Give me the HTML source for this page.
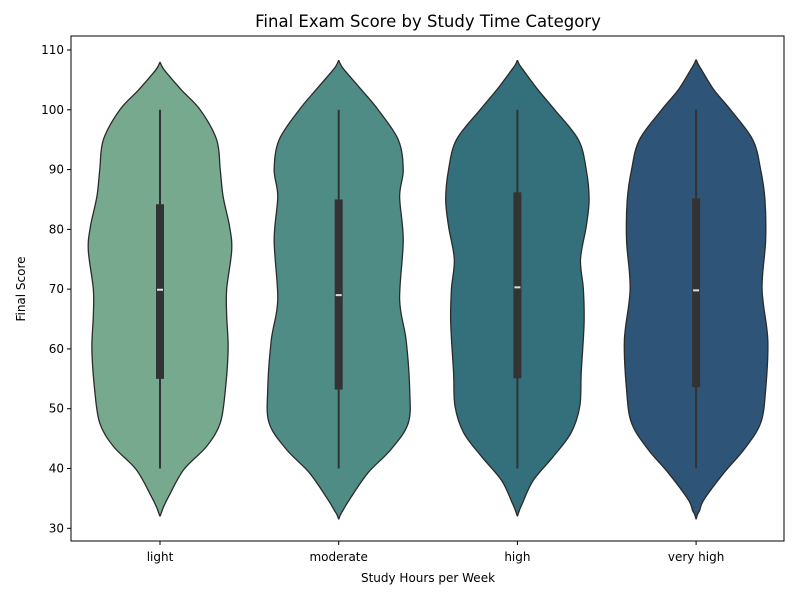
<!DOCTYPE html>
<html><head><meta charset="utf-8"><style>
body{margin:0;background:#fff;font-family:"Liberation Sans","DejaVu Sans",sans-serif}
</style></head><body>
<svg id="chart" width="800" height="600" xmlns="http://www.w3.org/2000/svg" font-family="DejaVu Sans, Liberation Sans, sans-serif">
<rect width="800" height="600" fill="#fff"/>
<text x="428" y="27" font-size="16.5" text-anchor="middle" fill="#000">Final Exam Score by Study Time Category</text>
<g id="plot"></g>
<rect x="71" y="36" width="713" height="505" fill="none" stroke="#000" stroke-width="1"/>
<g id="axes" font-size="12" fill="#000"></g>
<text x="428" y="582" font-size="12" text-anchor="middle">Study Hours per Week</text>
<text transform="translate(25,289) rotate(-90)" font-size="12" text-anchor="middle">Final Score</text>
</svg>
<script>
const categories=["light","moderate","high","very high"];
const colors=["#77a98f","#4f8c86","#346f7c","#2e5478"];
const yTicks=[30,40,50,60,70,80,90,100,110];
// density profiles: score points and relative widths
const lightScores=[108,107.2,106.2,103.3,100,95,90,85.5,80.5,76.5,70,65.5,60,53,47.6,43.7,39.8,35.3,33.6,32.8,32];
const lightDens=[0,0.03,0.09,0.30,0.56,0.79,0.84,0.88,0.97,1.0,0.93,0.93,0.95,0.91,0.84,0.65,0.33,0.12,0.05,0.025,0];
const moderateScores=[108.3,107.5,106.5,103.3,100,95,90,85.5,78.2,68.2,61.5,53.2,47.6,43.2,39.3,34.8,33.0,32.3,31.5];
const moderateDens=[0,0.03,0.09,0.32,0.55,0.83,0.90,0.85,0.90,0.85,0.94,0.99,0.97,0.73,0.41,0.15,0.06,0.025,0];
const highScores=[108.3,107.5,106.5,103.3,100,95,90,85,80.5,75,70,64.3,56,50.4,46,42,38,34.2,32.9,32];
const highDens=[0,0.03,0.09,0.29,0.52,0.85,0.96,1.0,0.96,0.88,0.92,0.93,0.89,0.87,0.75,0.50,0.22,0.07,0.025,0];
const veryHighScores=[108.4,107.6,106.6,103.3,100,95,90,85,78.2,70,61.5,53.2,47.6,43.2,39.3,34.8,33.0,32.3,31.5];
const veryHighDens=[0,0.03,0.08,0.25,0.48,0.79,0.90,0.96,0.97,0.92,1.0,0.97,0.90,0.67,0.39,0.11,0.05,0.02,0];
const q1=[55.0,53.2,55.1,53.6];
const q3=[84.2,85.0,86.2,85.2];
const medians=[69.9,69.0,70.3,69.8];
const whiskerLow=[40,40,40,40];
const whiskerHigh=[100,100,100,100];

const profiles=[[lightScores,lightDens],[moderateScores,moderateDens],[highScores,highDens],[veryHighScores,veryHighDens]];
const L=71,R=784,T=36,B=541;
function y(v){return 528.3-(v-30)*(478.3/80);}
function x(i){return 160+i*178.7;}
const maxHW=71.7;
const NS="http://www.w3.org/2000/svg";
const plot=document.getElementById('plot'),axes=document.getElementById('axes');
function mk(t,a,p){const e=document.createElementNS(NS,t);for(const k in a)e.setAttribute(k,a[k]);(p||plot).appendChild(e);return e;}
function smooth(pts){let d="M"+pts[0][0]+","+pts[0][1];
 for(let i=0;i<pts.length-1;i++){const p0=pts[Math.max(0,i-1)],p1=pts[i],p2=pts[i+1],p3=pts[Math.min(pts.length-1,i+2)];
 const c1=[p1[0]+(p2[0]-p0[0])/6,p1[1]+(p2[1]-p0[1])/6],c2=[p2[0]-(p3[0]-p1[0])/6,p2[1]-(p3[1]-p1[1])/6];
 d+=" C"+c1[0].toFixed(2)+","+c1[1].toFixed(2)+" "+c2[0].toFixed(2)+","+c2[1].toFixed(2)+" "+p2[0].toFixed(2)+","+p2[1].toFixed(2);}
 return d;}
categories.forEach((c,i)=>{
 const [s,d]=profiles[i],cx=x(i);
 const right=s.map((v,k)=>[cx+d[k]*maxHW,y(v)]);
 const left=s.map((v,k)=>[cx-d[k]*maxHW,y(v)]).reverse();
 const path=smooth(right)+" "+smooth(left).replace("M","L")+" Z";
 const v=mk('path',{d:path,fill:colors[i],stroke:"#2b2b2b","stroke-width":1.3});
 
 
 const w=mk('line',{x1:cx,x2:cx,y1:y(whiskerHigh[i]),y2:y(whiskerLow[i]),stroke:"#333","stroke-width":2});
 
 
 const b=mk('rect',{x:cx-4,y:y(q3[i]),width:8,height:y(q1[i])-y(q3[i]),fill:"#333"});
 
 
 const m=mk('line',{x1:cx-3,x2:cx+3,y1:y(medians[i]),y2:y(medians[i]),stroke:"#ddd","stroke-width":2});
 
 
 const tk=mk('line',{x1:cx,x2:cx,y1:B,y2:B+4,stroke:"#000"},axes);
 
 
 const tl=mk('text',{x:cx,y:B+20,"text-anchor":"middle"},axes);tl.textContent=c;
 
 
});
yTicks.forEach(t=>{
 const tk=mk('line',{x1:L-4,x2:L,y1:y(t),y2:y(t),stroke:"#000"},axes);
 
 
 const tl=mk('text',{x:L-7,y:y(t)+4,"text-anchor":"end"},axes);tl.textContent=t;
 
 
});
</script>
</body></html>
